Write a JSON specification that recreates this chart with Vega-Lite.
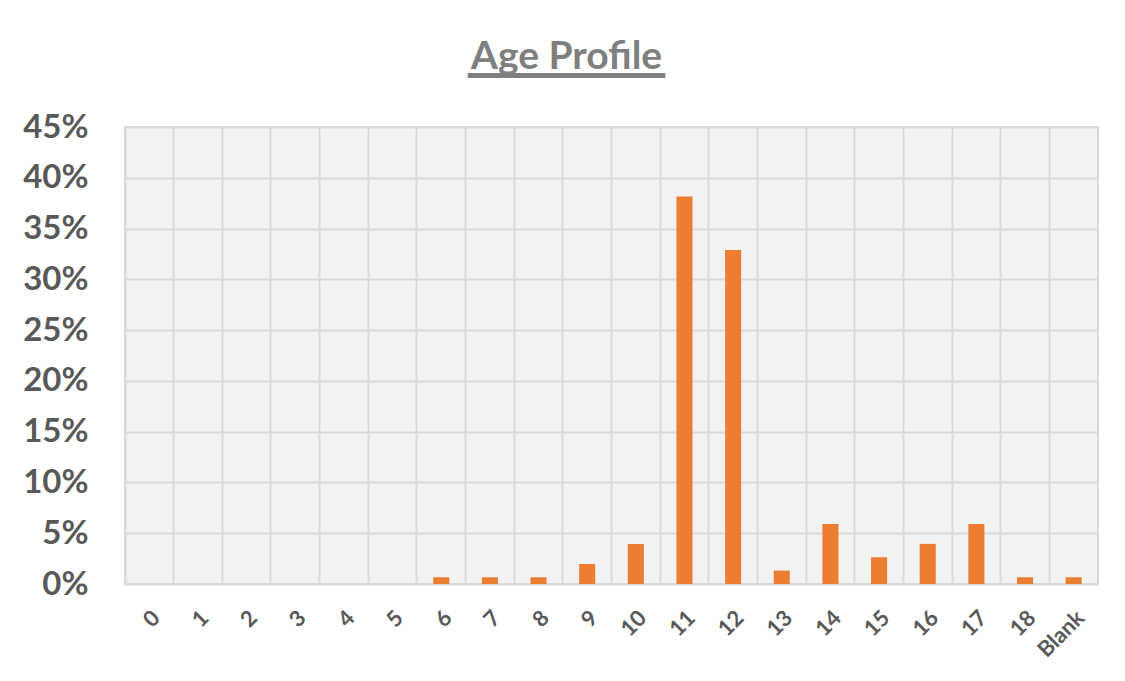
{
  "$schema": "https://vega.github.io/schema/vega-lite/v6.json",
  "autosize": "none",
  "width": 973,
  "height": 457,
  "padding": {"left": 125, "top": 127, "right": 27, "bottom": 97},
  "background": "white",
  "title": {
    "text": "Age Profile",
    "subtitle": "▔▔▔▔▔▔▔▔",
    "font": "Lato",
    "fontSize": 39,
    "fontWeight": "bold",
    "color": "#7f7f7f",
    "subtitleFont": "DejaVu Sans",
    "subtitleFontSize": 32,
    "subtitleColor": "#7f7f7f",
    "subtitlePadding": 1,
    "anchor": "middle",
    "dx": -45,
    "offset": 2
  },
  "data": {
    "values": [
      {"age": "0", "pct": 0},
      {"age": "1", "pct": 0},
      {"age": "2", "pct": 0},
      {"age": "3", "pct": 0},
      {"age": "4", "pct": 0},
      {"age": "5", "pct": 0},
      {"age": "6", "pct": 0.0066},
      {"age": "7", "pct": 0.0066},
      {"age": "8", "pct": 0.0066},
      {"age": "9", "pct": 0.0197},
      {"age": "10", "pct": 0.0395},
      {"age": "11", "pct": 0.3816},
      {"age": "12", "pct": 0.3289},
      {"age": "13", "pct": 0.0132},
      {"age": "14", "pct": 0.0592},
      {"age": "15", "pct": 0.0263},
      {"age": "16", "pct": 0.0395},
      {"age": "17", "pct": 0.0592},
      {"age": "18", "pct": 0.0066},
      {"age": "Blank", "pct": 0.0066}
    ]
  },
  "mark": {"type": "bar", "color": "#ED7D31", "width": {"band": 0.33}},
  "encoding": {
    "x": {
      "field": "age",
      "type": "nominal",
      "sort": null,
      "scale": {"paddingInner": 0, "paddingOuter": 0},
      "axis": {
        "title": null,
        "labelAngle": -45,
        "labelFont": "Lato",
        "labelFontSize": 22,
        "labelFontWeight": "bold",
        "labelColor": "#595959",
        "labelPadding": 23,
        "ticks": false,
        "domain": false,
        "grid": true,
        "gridColor": "#d9d9d9",
        "gridWidth": 2,
        "bandPosition": 0
      }
    },
    "y": {
      "field": "pct",
      "type": "quantitative",
      "scale": {"domain": [0, 0.45], "nice": false},
      "axis": {
        "title": null,
        "values": [0, 0.05, 0.1, 0.15, 0.2, 0.25, 0.3, 0.35, 0.4, 0.45],
        "format": ".0%",
        "labelFont": "Lato",
        "labelFontSize": 33,
        "labelFontWeight": "bold",
        "labelColor": "#595959",
        "labelPadding": 37,
        "ticks": false,
        "domain": false,
        "grid": true,
        "gridColor": "#d9d9d9",
        "gridWidth": 2
      }
    }
  },
  "config": {
    "view": {"stroke": "#d9d9d9", "strokeWidth": 2, "fill": "#f2f2f2"}
  }
}
